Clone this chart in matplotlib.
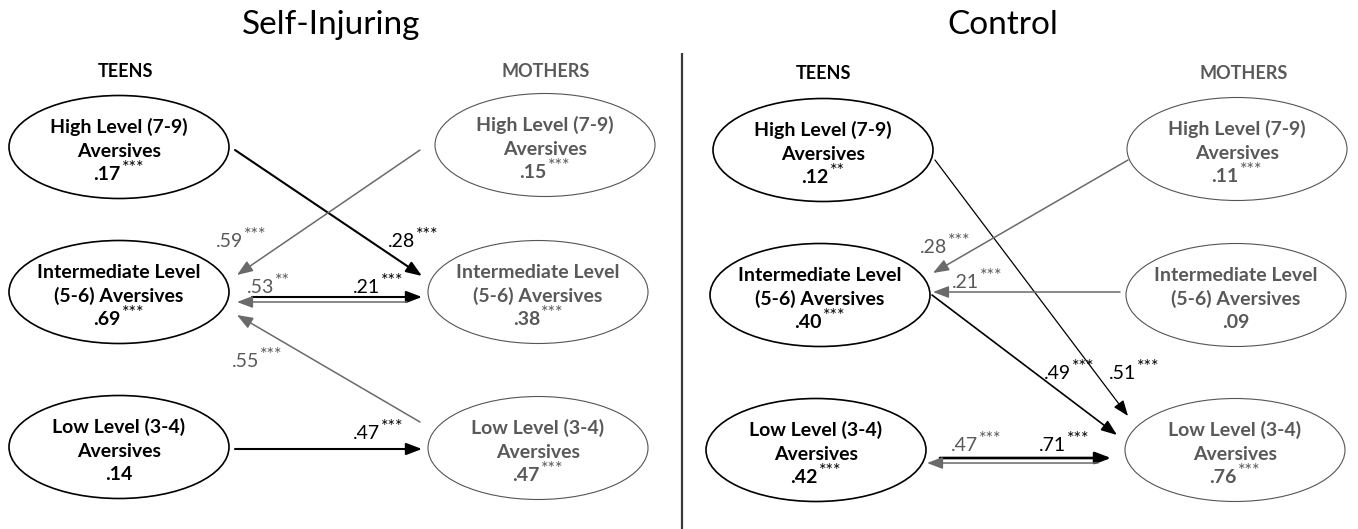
import matplotlib
matplotlib.use("Agg")
import matplotlib.pyplot as plt
from matplotlib.patches import Ellipse, FancyArrowPatch, ArrowStyle

plt.rcParams['font.family'] = ['Lato', 'DejaVu Sans']

# ---------------- data ----------------
panel_titles = ["Self-Injuring", "Control"]
group_labels = ["TEENS", "MOTHERS"]
level_line1 = ["High Level (7-9)", "Intermediate Level", "Low Level (3-4)"]
level_line2 = ["Aversives", "(5-6) Aversives", "Aversives"]

si_teen_r2 = [0.17, 0.69, 0.14]
si_teen_sig = ["***", "***", ""]
si_mother_r2 = [0.15, 0.38, 0.47]
si_mother_sig = ["***", "***", "***"]
ctl_teen_r2 = [0.12, 0.40, 0.42]
ctl_teen_sig = ["**", "***", "***"]
ctl_mother_r2 = [0.11, 0.09, 0.76]
ctl_mother_sig = ["***", "", "***"]

si_path_src = ["teen", "mother", "teen", "mother", "mother", "teen"]
si_path_from = [0, 0, 1, 1, 2, 2]
si_path_to = [1, 1, 1, 1, 1, 2]
si_path_coef = [0.28, 0.59, 0.21, 0.53, 0.55, 0.47]
si_path_sig = ["***", "***", "***", "**", "***", "***"]

ctl_path_src = ["teen", "mother", "mother", "teen", "teen", "mother"]
ctl_path_from = [0, 0, 1, 1, 2, 2]
ctl_path_to = [2, 1, 1, 2, 2, 2]
ctl_path_coef = [0.51, 0.28, 0.21, 0.49, 0.71, 0.47]
ctl_path_sig = ["***", "***", "***", "***", "***", "***"]

# ---------------- layout (pixel units) ----------------
W, H = 1358, 529
BLACK = "#000000"
GRAY_T = "#595959"
GRAY_L = "#6a6a6a"
ELL_W, ELL_H = 220, 103
NODE_FS = 14
LABEL_FS = 14
STAR_FS = 13
STAR_RAISE = 7

panels = [
    dict(title_x=331, group_x=[126, 546], group_y=77,
         teen_x=[119, 119, 119], teen_y=[147, 292, 447],
         mother_x=[545, 538, 538], mother_y=[145, 292, 448],
         teen_port=235, mother_port=421,
         teen_r2=si_teen_r2, teen_sig=si_teen_sig,
         mother_r2=si_mother_r2, mother_sig=si_mother_sig,
         src=si_path_src, frm=si_path_from, to=si_path_to,
         coef=si_path_coef, sig=si_path_sig,
         # (src_dx, src_dy, dst_dx, dst_dy, lw, label_x, label_baseline)
         geo=[(0, 3, 1, -16, 1.5, 388, 247),
              (-1, 5, 2, -17, 1.1, 216, 247),
              (17, 5, 1, 5, 1.5, 353, 293),
              (-14, 10, 2, 10, 1.1, 247, 293),
              (-1, -26, 2, 23, 1.1, 232, 367),
              (0, 2, 1, 1, 1.5, 353, 439)]),
    dict(title_x=1003, group_x=[823, 1244], group_y=79,
         teen_x=[823, 820, 816], teen_y=[150, 295, 450],
         mother_x=[1237, 1236, 1235], mother_y=[149, 295, 450],
         teen_port=933, mother_port=1122,
         teen_r2=ctl_teen_r2, teen_sig=ctl_teen_sig,
         mother_r2=ctl_mother_r2, mother_sig=ctl_mother_sig,
         src=ctl_path_src, frm=ctl_path_from, to=ctl_path_to,
         coef=ctl_path_coef, sig=ctl_path_sig,
         geo=[(2, 10, 6, -34, 0.9, 1109, 379),
              (6, 11, 0, -22, 1.1, 920, 253),
              (-2, -3, 0, -3, 1.1, 952, 288),
              (-1, 0, -5, -15, 1.2, 1044, 379),
              (7, 8, -11, 8, 1.9, 1039, 451),
              (-24, 13, -6, 13, 1.1, 951, 451)]),
]

fig = plt.figure(figsize=(W / 100, H / 100), dpi=100)
ax = fig.add_axes([0, 0, 1, 1])
ax.set_xlim(0, W)
ax.set_ylim(H, 0)
ax.axis("off")
renderer = fig.canvas.get_renderer()


def fmt(v):
    return f"{v:.2f}".lstrip("0")


def width_of(t):
    bb = t.get_window_extent(renderer=renderer)
    return bb.x1 - bb.x0


def value_with_stars(x, y, v, s, color, fs, weight, align):
    """Draw number with superscript stars; align 'left' (x = left edge) or 'center'."""
    num = ax.text(x, y, fmt(v), fontsize=fs, fontweight=weight, ha="left",
                  va="baseline", color=color, zorder=5)
    wn = width_of(num)
    ws = 0
    st = None
    if s:
        st = ax.text(x, y - STAR_RAISE, s, fontsize=STAR_FS, ha="left",
                     va="baseline", color=color, zorder=5)
        ws = width_of(st)
    x0 = x - (wn + ws + (1 if s else 0)) / 2 if align == "center" else x
    num.set_x(x0)
    if st is not None:
        st.set_x(x0 + wn + 1)


# divider
ax.plot([682, 682], [53, H], color="#3a3a3a", lw=1.6, solid_capstyle="butt")

for p, title in zip(panels, panel_titles):
    ax.text(p["title_x"], 34, title, fontsize=24, ha="center", va="baseline", color=BLACK)
    for gi, (glabel, gx) in enumerate(zip(group_labels, p["group_x"])):
        ax.text(gx, p["group_y"], glabel, fontsize=13, fontweight="bold",
                ha="center", va="baseline", color=BLACK if gi == 0 else GRAY_T)

    for grp in ["teen", "mother"]:
        xs, ys = p[grp + "_x"], p[grp + "_y"]
        r2, sig = p[grp + "_r2"], p[grp + "_sig"]
        edge = BLACK if grp == "teen" else "#555555"
        tcol = BLACK if grp == "teen" else GRAY_T
        lw = 1.2 if grp == "teen" else 0.8
        for i in range(3):
            ax.add_patch(Ellipse((xs[i], ys[i]), ELL_W, ELL_H, facecolor="white",
                                 edgecolor=edge, lw=lw, zorder=2))
            ax.text(xs[i], ys[i] - 14, level_line1[i], fontsize=NODE_FS, fontweight="bold",
                    ha="center", va="baseline", color=tcol, zorder=3)
            ax.text(xs[i], ys[i] + 10, level_line2[i], fontsize=NODE_FS, fontweight="bold",
                    ha="center", va="baseline", color=tcol, zorder=3)
            value_with_stars(xs[i], ys[i] + 33, r2[i], sig[i], tcol, NODE_FS, "bold", "center")

    for k in range(len(p["coef"])):
        sdx, sdy, ddx, ddy, lw, lx, ly = p["geo"][k]
        if p["src"][k] == "teen":
            x0 = p["teen_port"] + sdx
            y0 = p["teen_y"][p["frm"][k]] + sdy
            x1 = p["mother_port"] + ddx
            y1 = p["mother_y"][p["to"][k]] + ddy
            col, tcol = BLACK, BLACK
        else:
            x0 = p["mother_port"] + sdx
            y0 = p["mother_y"][p["frm"][k]] + sdy
            x1 = p["teen_port"] + ddx
            y1 = p["teen_y"][p["to"][k]] + ddy
            col, tcol = GRAY_L, GRAY_T
        arr = FancyArrowPatch((x0, y0), (x1, y1),
                              arrowstyle=ArrowStyle("-|>", head_length=9.5, head_width=3.6),
                              mutation_scale=1, shrinkA=0, shrinkB=0,
                              color=col, lw=lw, zorder=4)
        ax.add_patch(arr)
        value_with_stars(lx, ly, p["coef"][k], p["sig"][k], tcol, LABEL_FS, "normal", "left")

fig.savefig("out.png", dpi=100)
